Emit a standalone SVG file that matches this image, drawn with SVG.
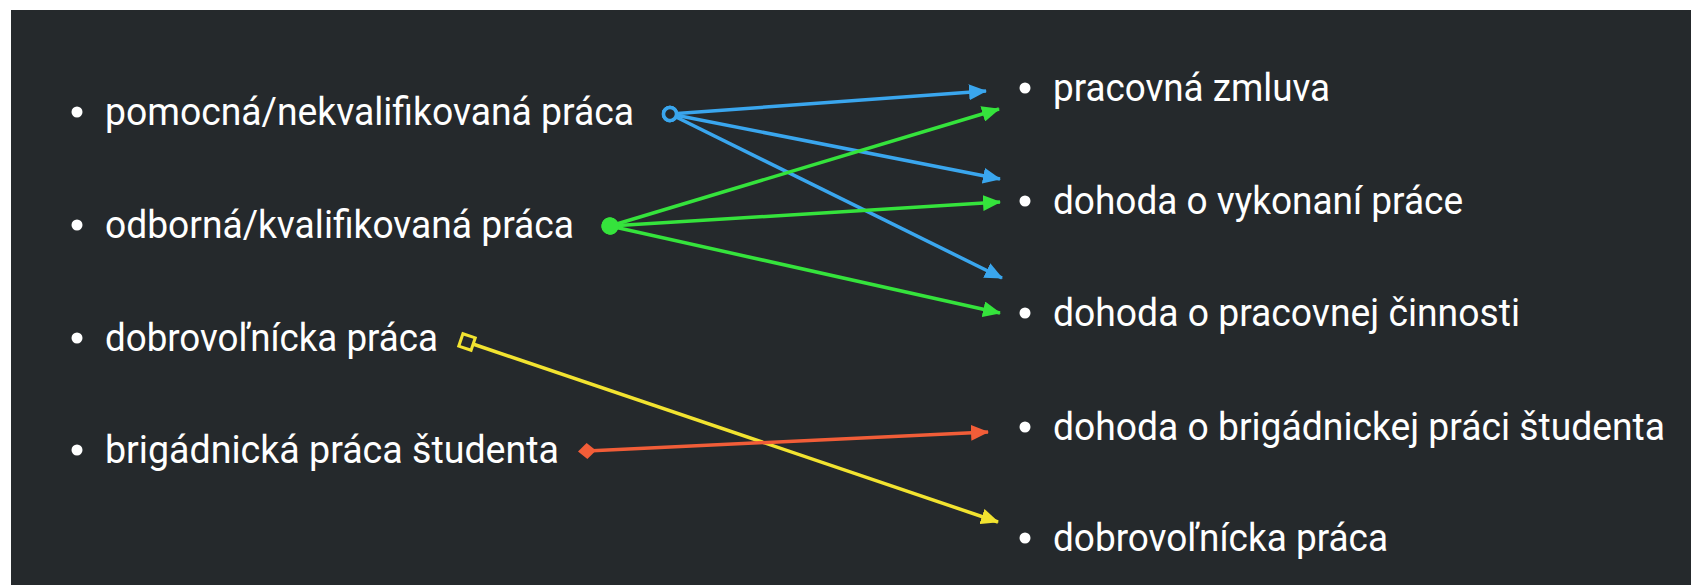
<svg xmlns="http://www.w3.org/2000/svg" width="1691" height="585" viewBox="0 0 1691 585">
<style>
  .t { font-family: Roboto, "Liberation Sans", sans-serif; font-size: 38px; fill: #ffffff; }
  .b { fill: #ffffff; }
  .c { fill: none; stroke-width: 3.5; }
  .blue { stroke: #3aa6ee; }
  .green { stroke: #35e33c; }
  .yellow { stroke: #f2e330; }
  .red { stroke: #f25d38; }
</style>
<defs>
  <marker id="ahBlue" markerUnits="userSpaceOnUse" markerWidth="18" markerHeight="16" refX="17" refY="8" orient="auto">
    <path d="M0,0 L18,8 L0,16 z" fill="#3aa6ee"/>
  </marker>
  <marker id="ahGreen" markerUnits="userSpaceOnUse" markerWidth="18" markerHeight="16" refX="17" refY="8" orient="auto">
    <path d="M0,0 L18,8 L0,16 z" fill="#35e33c"/>
  </marker>
  <marker id="ahYellow" markerUnits="userSpaceOnUse" markerWidth="18" markerHeight="16" refX="17" refY="8" orient="auto">
    <path d="M0,0 L18,8 L0,16 z" fill="#f2e330"/>
  </marker>
  <marker id="ahRed" markerUnits="userSpaceOnUse" markerWidth="18" markerHeight="16" refX="17" refY="8" orient="auto">
    <path d="M0,0 L18,8 L0,16 z" fill="#f25d38"/>
  </marker>
  <marker id="stBlue" markerUnits="userSpaceOnUse" markerWidth="20" markerHeight="20" refX="10" refY="10" orient="auto">
    <circle cx="10" cy="10" r="6.5" fill="#25292c" stroke="#3aa6ee" stroke-width="3.5"/>
  </marker>
  <marker id="stGreen" markerUnits="userSpaceOnUse" markerWidth="20" markerHeight="20" refX="10" refY="10" orient="auto">
    <circle cx="10" cy="10" r="8.5" fill="#35e33c"/>
  </marker>
  <marker id="stYellow" markerUnits="userSpaceOnUse" markerWidth="20" markerHeight="20" refX="10" refY="10" orient="auto">
    <rect x="3.5" y="3.5" width="13" height="13" fill="#25292c" stroke="#f2e330" stroke-width="3"/>
  </marker>
  <marker id="stRed" markerUnits="userSpaceOnUse" markerWidth="20" markerHeight="20" refX="10" refY="10" orient="auto">
    <path d="M1,10 L10,2 L19,10 L10,18 z" fill="#f25d38"/>
  </marker>
</defs>
<rect x="0" y="0" width="1691" height="585" fill="#ffffff"/>
<rect x="11" y="10" width="1680" height="575" fill="#25292c"/>

<g id="left-1"><circle class="b" cx="77" cy="112" r="5.5"/><text class="t" x="105" y="125" textLength="529" lengthAdjust="spacingAndGlyphs">pomocná/nekvalifikovaná práca</text></g>
<g id="left-2"><circle class="b" cx="77" cy="225" r="5.5"/><text class="t" x="105" y="238" textLength="469" lengthAdjust="spacingAndGlyphs">odborná/kvalifikovaná práca</text></g>
<g id="left-3"><circle class="b" cx="77" cy="338" r="5.5"/><text class="t" x="105" y="351" textLength="333" lengthAdjust="spacingAndGlyphs">dobrovoľnícka práca</text></g>
<g id="left-4"><circle class="b" cx="77" cy="450" r="5.5"/><text class="t" x="105" y="463" textLength="454" lengthAdjust="spacingAndGlyphs">brigádnická práca študenta</text></g>

<g id="right-1"><circle class="b" cx="1025" cy="88" r="5.5"/><text class="t" x="1053" y="101" textLength="277" lengthAdjust="spacingAndGlyphs">pracovná zmluva</text></g>
<g id="right-2"><circle class="b" cx="1025" cy="201" r="5.5"/><text class="t" x="1053" y="214" textLength="410" lengthAdjust="spacingAndGlyphs">dohoda o vykonaní práce</text></g>
<g id="right-3"><circle class="b" cx="1025" cy="313" r="5.5"/><text class="t" x="1053" y="326" textLength="467" lengthAdjust="spacingAndGlyphs">dohoda o pracovnej činnosti</text></g>
<g id="right-4"><circle class="b" cx="1025" cy="427" r="5.5"/><text class="t" x="1053" y="440" textLength="612" lengthAdjust="spacingAndGlyphs">dohoda o brigádnickej práci študenta</text></g>
<g id="right-5"><circle class="b" cx="1025" cy="538" r="5.5"/><text class="t" x="1053" y="551" textLength="335" lengthAdjust="spacingAndGlyphs">dobrovoľnícka práca</text></g>

<g id="connectors">
  <line class="c blue" x1="670" y1="114" x2="986" y2="91" marker-start="url(#stBlue)" marker-end="url(#ahBlue)"/>
  <line class="c blue" x1="670" y1="114" x2="1000" y2="179" marker-start="url(#stBlue)" marker-end="url(#ahBlue)"/>
  <line class="c blue" x1="670" y1="114" x2="1002" y2="278" marker-start="url(#stBlue)" marker-end="url(#ahBlue)"/>
  <line class="c green" x1="610" y1="226" x2="999" y2="109" marker-start="url(#stGreen)" marker-end="url(#ahGreen)"/>
  <line class="c green" x1="610" y1="226" x2="1000" y2="202" marker-start="url(#stGreen)" marker-end="url(#ahGreen)"/>
  <line class="c green" x1="610" y1="226" x2="1000" y2="313" marker-start="url(#stGreen)" marker-end="url(#ahGreen)"/>
  <line class="c yellow" x1="467" y1="342" x2="998" y2="522" marker-start="url(#stYellow)" marker-end="url(#ahYellow)"/>
  <line class="c red" x1="587" y1="451" x2="988" y2="432" marker-start="url(#stRed)" marker-end="url(#ahRed)"/>
</g>
</svg>
